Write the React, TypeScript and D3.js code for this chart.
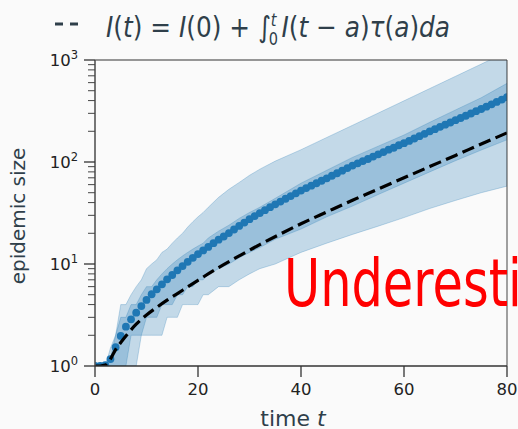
import React from "react";
import * as d3 from "d3";

// median of the simulations, one dot per day
const days = d3.range(0, 81);
const medianSize = [
  1, 1, 1.02, 1.17, 1.53, 1.97, 2.43, 2.87, 3.33, 3.87,
  4.44, 5.05, 5.65, 6.32, 7.08, 7.8, 8.67, 9.55, 10.5, 11.5,
  12.5, 13.6, 14.7, 16.0, 17.3, 18.6, 20.1, 21.8, 23.6, 25.5,
  27.5, 29.5, 31.6, 33.7, 36.1, 38.5, 40.9, 43.6, 46.3, 49.3,
  52.5, 55.5, 58.6, 61.9, 65.5, 69.2, 73.3, 77.6, 82.2, 87.1,
  92.3, 97.0, 102, 107, 113, 119, 125, 132, 138, 146,
  153, 161, 170, 179, 189, 200, 210, 221, 232, 244,
  257, 270, 284, 299, 315, 331, 349, 368, 388, 409, 432,
];

// quantile bands
const bandTimes = [
  0, 1, 2, 3, 4, 5, 6, 7, 8, 9, 10, 11, 12, 13, 14, 15, 16, 17, 18, 19, 20, 21, 22,
  24, 26, 28, 30, 32, 35, 40, 45, 50, 55, 60, 65, 70, 75, 80,
];
const outerLow = [
  1, 1, 1, 1, 1, 1, 1, 1, 1, 2, 2, 2, 2, 2, 3, 3, 3, 4, 4, 4, 4, 5, 5,
  6, 6, 7, 8, 9, 10, 13, 16, 19.5, 23.5, 28.5, 35, 42, 50, 58,
];
const outerHigh = [
  1, 1, 1, 1.2, 2, 4, 4, 5, 6, 7, 9, 10, 11, 13, 14, 16, 18, 20, 23, 26, 29, 32, 36,
  45, 54, 63, 74, 85, 102, 132, 174, 229, 302, 398, 525, 692, 912, 1202,
];
const innerLow = [
  1, 1, 1, 1, 1, 1, 1, 2, 2, 2, 3, 3, 3, 4, 4, 4, 5, 5, 6, 6, 7, 7, 8,
  9, 10, 11.5, 13, 14.5, 17.5, 22, 29, 37, 48, 62, 80, 103, 131, 165,
];
const innerHigh = [
  1, 1, 1, 1.5, 2, 3, 3, 4, 4, 5, 6, 6, 7, 8, 9, 10, 11, 12, 13, 14, 15, 16, 18,
  21, 24, 28, 32, 36, 44, 62, 83, 111, 143, 184, 245, 324, 427, 590,
];

// deterministic renewal equation
const dashTimes = [0, 1, 2, 3, 4, 5, 6, 8, 10, 12, 14, 16, 18, 20, 24, 28, 32, 36, 40, 45, 50, 55, 60, 65, 70, 75, 80];
const dashSize = [
  1, 1, 1.02, 1.17, 1.45, 1.7, 1.97, 2.57, 3.16, 3.76, 4.42, 5.13, 5.96, 6.92,
  9.23, 12.0, 15.5, 19.7, 24.8, 32.4, 42.2, 54.3, 70.0, 90.2, 116, 150, 193,
];

const xTicks = [0, 20, 40, 60, 80];
const yMajor = [1, 10, 100, 1000];

const textColor = "#2f3f4a";
const blue = "#1f77b4";
const font = "DejaVu Sans";

export default function App() {
  const width = 518;
  const height = 429;
  const margin = { top: 60, right: 11, bottom: 63, left: 95 };
  const innerW = width - margin.left - margin.right;
  const innerH = height - margin.top - margin.bottom;

  const x = d3.scaleLinear().domain([0, 80]).range([margin.left, margin.left + innerW]);
  const y = d3.scaleLog().domain([1, 1000]).range([margin.top + innerH, margin.top]);

  const yMinor = y.ticks().filter((v) => !yMajor.includes(v));

  const outerArea = d3
    .area<number>()
    .x((d) => x(d))
    .y0((d, i) => y(outerLow[i]))
    .y1((d, i) => y(outerHigh[i]));
  const innerArea = d3
    .area<number>()
    .x((d) => x(d))
    .y0((d, i) => y(innerLow[i]))
    .y1((d, i) => y(innerHigh[i]));
  const dashLine = d3
    .line<number>()
    .x((d) => x(d))
    .y((d, i) => y(dashSize[i]))
    .curve(d3.curveMonotoneX);

  const x0 = margin.left;
  const x1 = margin.left + innerW;
  const y0 = margin.top + innerH;
  const y1 = margin.top;

  return (
    <div style={{ position: "fixed", left: 0, top: 0 }}>
      <svg width={width} height={height} style={{ display: "block", background: "#fafafa" }}>
        <defs>
          <clipPath id="plot">
            <rect x={x0} y={y1} width={innerW} height={innerH} />
          </clipPath>
        </defs>

        <g clipPath="url(#plot)">
          <path d={outerArea(bandTimes) || ""} fill={blue} fillOpacity={0.25} stroke={blue} strokeOpacity={0.25} strokeWidth={1} />
          <path d={innerArea(bandTimes) || ""} fill={blue} fillOpacity={0.25} stroke={blue} strokeOpacity={0.25} strokeWidth={1} />
          {days.map((t, i) => (
            <circle key={i} cx={x(t)} cy={y(medianSize[i])} r={3.9} fill={blue} />
          ))}
          <path d={dashLine(dashTimes) || ""} fill="none" stroke="#000" strokeWidth={3.2} strokeDasharray="12.5,5.5" />
        </g>

        {/* frame */}
        <line x1={x0} x2={x1} y1={y1} y2={y1} stroke="#333" strokeWidth={1} />
        <line x1={x1} x2={x1} y1={y1} y2={y0} stroke="#444" strokeWidth={1} />
        <line x1={x0} x2={x0} y1={y1} y2={y0} stroke="#555" strokeWidth={1.6} />
        <line x1={x0} x2={x1} y1={y0} y2={y0} stroke="#333" strokeWidth={1.6} />

        {/* y axis */}
        {yMinor.map((v, i) => (
          <line key={"m" + i} x1={x0 - 7} x2={x0} y1={y(v)} y2={y(v)} stroke="#444" strokeWidth={1} />
        ))}
        {yMajor.map((v, i) => (
          <g key={"y" + i}>
            <line x1={x0 - 11} x2={x0} y1={y(v)} y2={y(v)} stroke="#333" strokeWidth={1.3} />
            <text x={x0 - 17} y={y(v) + 6} textAnchor="end" fontFamily={font} fontSize={16.5} fill="#222">
              10
              <tspan dy={-7} fontSize={11.5}>{String(Math.round(Math.log10(v)))}</tspan>
            </text>
          </g>
        ))}

        {/* x axis */}
        {xTicks.map((t, i) => (
          <g key={"x" + i}>
            <line x1={x(t)} x2={x(t)} y1={y0} y2={y0 + 11} stroke="#333" strokeWidth={1.3} />
            <text x={x(t)} y={y0 + 29} textAnchor="middle" fontFamily={font} fontSize={16.5} fill="#222">
              {t}
            </text>
          </g>
        ))}

        <text x={293} y={426} textAnchor="middle" fontFamily={font} fontSize={22} fill={textColor}>
          time <tspan fontStyle="italic">t</tspan>
        </text>
        <text transform="translate(25,216) rotate(-90)" textAnchor="middle" fontFamily={font} fontSize={20} fill={textColor}>
          epidemic size
        </text>

        {/* legend / title */}
        <line x1={55} x2={79} y1={24} y2={24} stroke={textColor} strokeWidth={3} strokeDasharray="8,7" />
        <text x={106} y={37} fontFamily={font} fontSize={29} fill={textColor} textLength={344} lengthAdjust="spacingAndGlyphs">
          <tspan fontStyle="italic">I</tspan>(<tspan fontStyle="italic">t</tspan>){" = "}
          <tspan fontStyle="italic">I</tspan>(0){" + "}∫
          <tspan dy={-11} fontSize={17} fontStyle="italic">t</tspan>
          <tspan dx={-9} dy={19} fontSize={17}>0</tspan>
          <tspan dx={4} dy={-8} fontStyle="italic">I</tspan>(<tspan fontStyle="italic">t</tspan>{" − "}
          <tspan fontStyle="italic">a</tspan>)<tspan fontStyle="italic">τ</tspan>(<tspan fontStyle="italic">a</tspan>)
          <tspan fontStyle="italic">da</tspan>
        </text>

        <text x={284} y={306} fontFamily={font} fontSize={65} fill="#ff0000" textLength={366} lengthAdjust="spacingAndGlyphs">
          Underestimate
        </text>
      </svg>
    </div>
  );
}
